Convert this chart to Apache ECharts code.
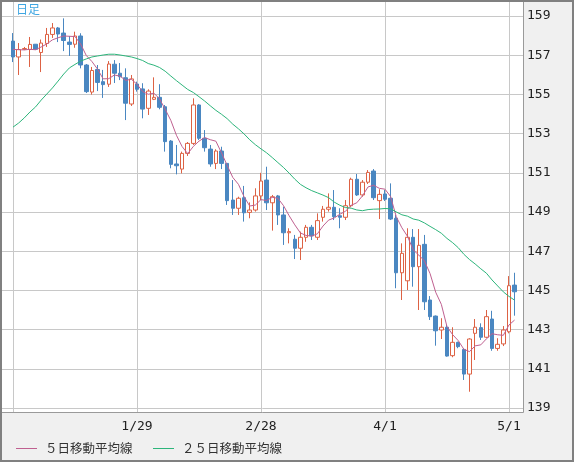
<!DOCTYPE html>
<html>
<head>
<meta charset="utf-8">
<script src="https://cdn.jsdelivr.net/npm/echarts/dist/echarts.min.js"></script>
<style>
html,body{margin:0;padding:0;background:#f0f0f0;}
#chart{width:574px;height:462px;}
</style>
</head>
<body>
<div id="chart"></div>
<script>
// Trading days (weekdays) 2024/12/30 - 2025/5/2
const dates = [
'12/30','12/31','1/1','1/2','1/3','1/6','1/7','1/8','1/9','1/10',
'1/13','1/14','1/15','1/16','1/17','1/20','1/21','1/22','1/23','1/24',
'1/27','1/28','1/29','1/30','1/31','2/3','2/4','2/5','2/6','2/7',
'2/10','2/11','2/12','2/13','2/14','2/17','2/18','2/19','2/20','2/21',
'2/24','2/25','2/26','2/27','2/28','3/3','3/4','3/5','3/6','3/7',
'3/10','3/11','3/12','3/13','3/14','3/17','3/18','3/19','3/20','3/21',
'3/24','3/25','3/26','3/27','3/28','3/31','4/1','4/2','4/3','4/4',
'4/7','4/8','4/9','4/10','4/11','4/14','4/15','4/16','4/17','4/18',
'4/21','4/22','4/23','4/24','4/25','4/28','4/29','4/30','5/1','5/2'];

const opens = [
157.72,156.91,157.30,157.29,157.56,157.14,157.60,158.06,158.39,158.13,
157.67,157.56,157.98,156.50,155.12,156.27,155.65,155.52,156.54,156.08,
155.85,154.51,155.53,155.28,154.29,154.75,154.85,154.37,152.62,151.45,
151.19,151.99,152.50,154.46,152.76,152.21,151.48,152.11,151.48,149.61,
149.19,149.73,148.98,149.10,149.82,150.63,149.47,149.82,148.85,147.94,
147.61,147.15,147.71,148.22,147.71,148.73,149.14,149.24,148.81,148.73,
149.32,150.67,149.87,150.52,151.09,149.58,149.92,149.70,148.68,145.90,
145.49,147.71,146.21,147.35,144.51,143.69,142.98,143.12,141.67,142.35,
141.99,140.73,142.81,143.10,142.61,143.54,142.04,142.27,142.89,145.27];

const closes = [
156.91,157.29,157.34,157.55,157.30,157.62,158.06,158.39,158.08,157.75,
157.55,157.98,156.50,155.14,156.22,155.61,155.50,156.55,156.08,155.90,
154.55,155.79,155.26,154.25,155.17,154.85,154.34,152.59,151.43,151.36,
151.99,152.50,154.46,152.76,152.28,151.45,152.11,151.48,149.58,149.19,
149.70,148.96,149.10,149.82,150.58,149.47,149.78,148.85,147.94,148.00,
147.15,147.71,148.22,147.78,148.56,149.14,149.24,148.76,148.73,149.32,
150.67,149.87,150.52,151.02,149.73,149.90,149.65,148.64,145.90,146.89,
147.71,146.21,147.30,144.42,143.66,142.94,143.12,141.65,142.35,142.13,
140.73,142.52,143.12,142.61,143.66,142.04,142.25,142.98,145.24,144.93];

const lows = [
156.65,155.99,157.26,156.40,157.27,156.14,157.42,157.88,157.67,157.21,
156.96,157.38,156.33,155.07,154.99,155.17,154.82,155.38,155.58,155.73,
153.69,154.41,155.14,153.78,153.95,154.71,154.24,152.08,151.23,150.92,
150.97,151.86,152.42,152.67,152.08,151.31,151.19,151.19,149.36,148.85,
148.85,148.51,148.68,149.02,149.61,149.10,148.05,148.34,147.32,147.40,
146.60,146.55,147.48,147.57,147.57,148.51,149.02,148.59,148.17,148.59,
149.24,149.82,149.78,150.43,149.61,148.64,149.56,148.59,145.11,144.51,
145.02,145.19,144.00,144.00,143.49,142.18,142.52,141.62,141.59,142.05,
140.43,139.83,141.45,142.47,142.56,141.92,141.92,142.16,142.81,143.71];

const highs = [
158.13,157.62,157.42,157.93,157.57,157.80,158.39,158.64,158.44,158.88,
157.98,158.20,158.12,156.55,156.40,156.50,156.25,156.70,156.75,156.60,
156.33,155.99,155.65,155.57,155.26,155.87,155.52,154.46,152.67,152.42,
152.08,152.57,154.80,154.50,153.18,152.42,152.20,152.33,151.50,150.63,
149.78,150.33,149.49,150.21,151.00,151.31,149.87,149.87,149.27,148.17,
147.83,148.00,148.34,148.34,148.93,149.31,149.95,150.12,149.19,149.61,
150.75,150.94,150.63,151.14,151.19,150.16,150.12,150.46,148.85,147.40,
148.17,148.13,148.13,147.83,144.71,143.72,143.58,143.23,143.12,142.38,
142.04,142.56,143.54,143.32,144.00,143.96,142.56,143.18,145.73,145.90];

const ma5Head = [157.30,157.28,157.27,157.30];
const ma25Head = [153.33,153.54,153.80,154.10,154.36,154.71,155.02,155.33,155.68,156.04,
156.35,156.53,156.70,156.81,156.91,156.96,157.01,157.05,157.05,157.01,156.96,156.91,156.83,156.73];

const xLabelDates = ['1/29','2/28','4/1','5/1'];
const xGridDates = ['12/30','1/29','2/28','4/1','5/1'];
const yMin = 139, yMax = 159, yStep = 2;

const legendNames = ['５日移動平均線','２５日移動平均線'];
const titleText = '日足';

function avg(a){ let s=0; for(const v of a) s+=v; return +(s/a.length).toFixed(3); }
const ma5 = closes.map((c,i)=> i<4 ? ma5Head[i] : avg(closes.slice(i-4,i+1)));
const ma25 = closes.map((c,i)=> i<24 ? ma25Head[i] : avg(closes.slice(i-24,i+1)));
const candles = dates.map((d,i)=>[opens[i],closes[i],lows[i],highs[i]]);

const RED='#dd6244', BLUE='#4a87c1', PINK='#bf6090', GREEN='#2db57b', GRID='#c8c8c8';
const pxPerUnit = 19.6;

const chart = echarts.init(document.getElementById('chart'), null, {renderer:'canvas'});
chart.setOption({
  animation:false,
  backgroundColor:'#f0f0f0',
  grid:[
    {left:13, right:59.4, top:2, bottom:50},
    {left:2, right:51, top:16, bottom:54}
  ],
  xAxis:[
    {type:'category', gridIndex:0, data:dates, boundaryGap:false,
     axisLine:{show:false}, axisTick:{show:false},
     axisLabel:{interval:(i,v)=>xLabelDates.includes(v), margin:8, color:'#222',
                fontFamily:'DejaVu Sans Mono', fontSize:13},
     splitLine:{show:true, interval:(i,v)=>xGridDates.includes(v), lineStyle:{color:GRID,width:1}}},
    {type:'value', gridIndex:1, show:false, min:0, max:1}
  ],
  yAxis:[
    {type:'value', gridIndex:0, show:false,
     min: yMin - 4/pxPerUnit, max: yMax + 14/pxPerUnit},
    {type:'value', gridIndex:1, min:yMin, max:yMax, interval:yStep, position:'right',
     axisLine:{show:false}, axisTick:{show:false},
     axisLabel:{margin:4, color:'#222', fontFamily:'DejaVu Sans Mono', fontSize:13},
     splitLine:{show:true, lineStyle:{color:GRID,width:1}}}
  ],
  graphic:[
    {type:'rect', z:-10, shape:{x:2,y:2,width:521,height:410}, style:{fill:'#ffffff'}},
    {type:'line', z:100, shape:{x1:523.5,y1:2,x2:523.5,y2:412.5}, style:{stroke:'#9a9a9a',lineWidth:1}},
    {type:'line', z:100, shape:{x1:2,y1:412.5,x2:523.5,y2:412.5}, style:{stroke:'#9a9a9a',lineWidth:1}},
    {type:'rect', z:101, shape:{x:1,y:1,width:572,height:460}, style:{fill:null,stroke:'#808080',lineWidth:2}},
    {type:'text', z:100, x:16, y:3, style:{text:titleText, fill:'#3fa6e2', fontSize:12,
      fontFamily:'Noto Sans CJK JP', verticalAlign:'top'}},
    {type:'line', z:100, shape:{x1:16,y1:448.5,x2:37,y2:448.5}, style:{stroke:PINK,lineWidth:1}},
    {type:'text', z:100, x:45, y:448, style:{text:legendNames[0], fill:'#333', fontSize:12.5,
      fontFamily:'Noto Sans CJK JP', verticalAlign:'middle'}},
    {type:'line', z:100, shape:{x1:153,y1:448.5,x2:174,y2:448.5}, style:{stroke:GREEN,lineWidth:1}},
    {type:'text', z:100, x:182, y:448, style:{text:legendNames[1], fill:'#333', fontSize:12.5,
      fontFamily:'Noto Sans CJK JP', verticalAlign:'middle'}}
  ],
  series:[
    {type:'candlestick', xAxisIndex:0, yAxisIndex:0, data:candles, barWidth:4, clip:false,
     itemStyle:{color:'#ffffff', color0:BLUE, borderColor:RED, borderColor0:BLUE, borderWidth:1}},
    {type:'line', name:legendNames[0], xAxisIndex:0, yAxisIndex:0, data:ma5, showSymbol:false, clip:false,
     z:3, lineStyle:{color:PINK,width:1}, itemStyle:{color:PINK}},
    {type:'line', name:legendNames[1], xAxisIndex:0, yAxisIndex:0, data:ma25, showSymbol:false, clip:false,
     z:3, lineStyle:{color:GREEN,width:1}, itemStyle:{color:GREEN}}
  ]
});
</script>
</body>
</html>
